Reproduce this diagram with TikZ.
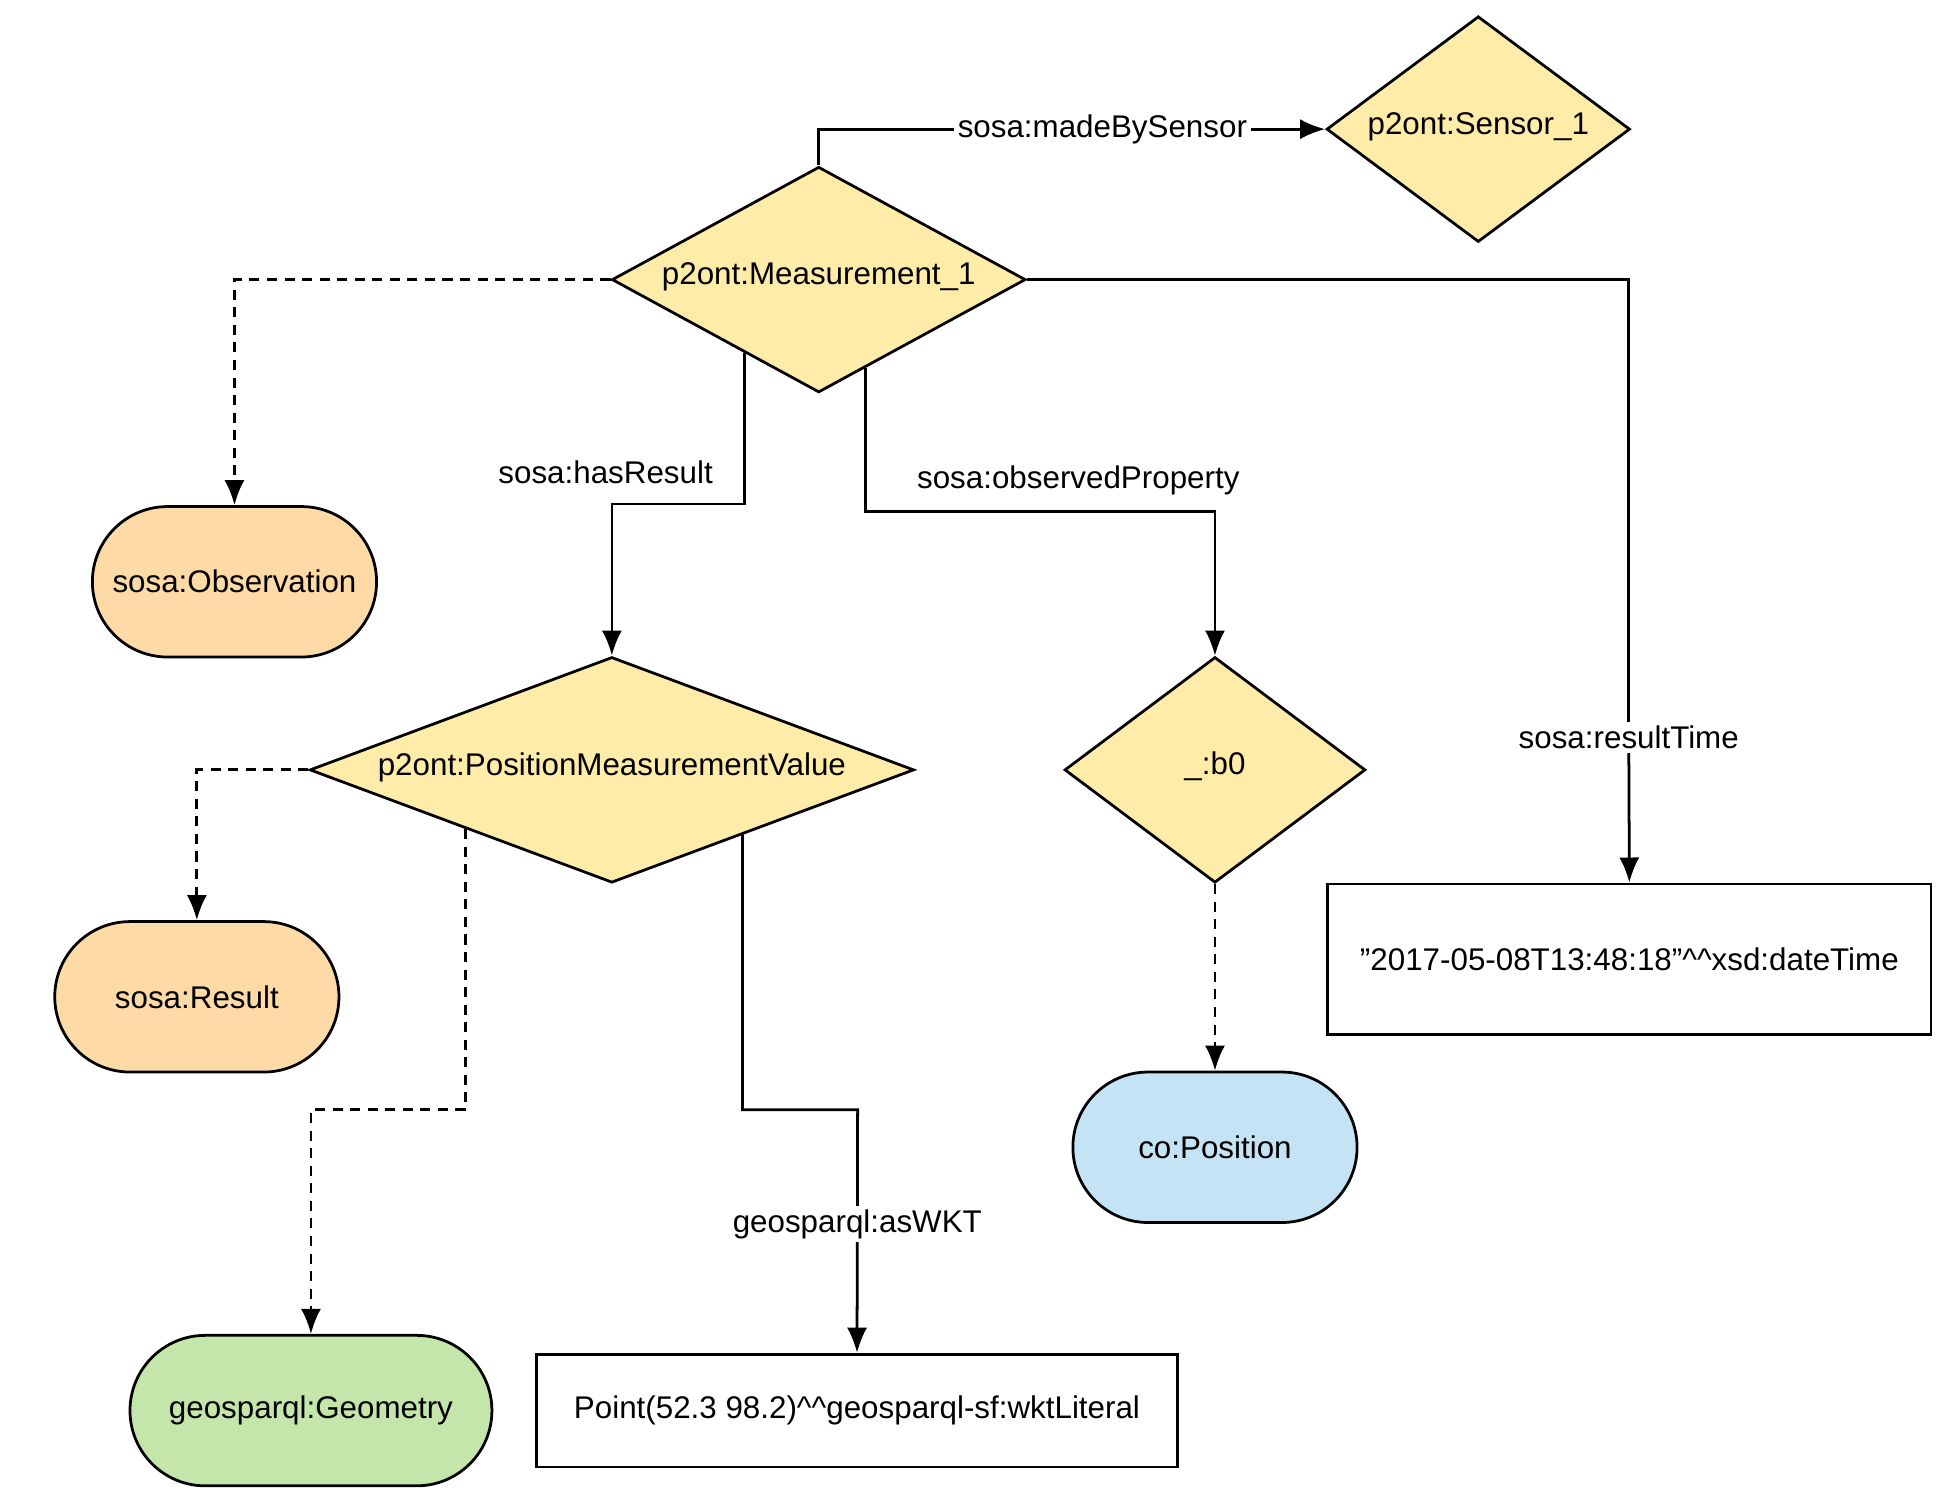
\documentclass[tikz,border=0pt]{standalone}
\usepackage{fontspec}
\setmainfont{Liberation Sans}
\usetikzlibrary{shapes.geometric,shapes.misc,calc,arrows.meta}
\definecolor{dy}{HTML}{FFECA8}
\definecolor{og}{HTML}{FDDAA6}
\definecolor{bl}{HTML}{C4E4F6}
\definecolor{gr}{HTML}{C5E6AA}
\begin{document}
\begin{tikzpicture}[x=0.5pt,y=-0.5pt,
  every node/.style={font=\fontsize{12.5}{15}\selectfont},
  dia/.style={diamond,draw,line width=1.1pt,fill=dy,inner sep=0pt},
  pill/.style={rounded rectangle,draw,line width=1.1pt,minimum width=120pt,minimum height=60pt},
  box/.style={rectangle,draw,line width=1.1pt,fill=white},
  e/.style={line width=1.1pt,-{Latex[length=10pt,width=8pt]}},
  d/.style={e,dash pattern=on 4pt off 3pt},
  lab/.style={fill=white,inner sep=1.5pt}]
\useasboundingbox (0,0) rectangle (1560,1195);
\node[dia,minimum width=165pt,minimum height=90pt] (m) at (653,223) {};
\node (mt) at (653,221) {p2ont:Measurement\_1};
\node[dia,minimum width=121pt,minimum height=90pt] (s) at (1179,103) {};
\node (st) at (1179,101) {p2ont:Sensor\_1};
\node[dia,minimum width=241pt,minimum height=90pt] (p) at (488,614) {};
\node (pt) at (488,612) {p2ont:PositionMeasurementValue};
\node[dia,minimum width=120pt,minimum height=90pt] (b) at (969,614) {};
\node (bt) at (969,611) {\_:b0};
\node[pill,fill=og] (o) at (187,464) {sosa:Observation};
\node[pill,fill=og] (r) at (157,795) {sosa:Result};
\node[pill,fill=bl] (c) at (969,915) {co:Position};
\node[pill,fill=gr,minimum width=151pt] (g) at (248,1125) {geosparql:Geometry};
\node[box,minimum width=240.5pt,minimum height=60pt] (t) at (1299.5,765) {\symbol{34}2017-05-08T13:48:18\symbol{34}\^{}\^{}xsd:dateTime};
\node[box,minimum width=255.5pt,minimum height=45pt] (w) at (683.5,1125) {Point(52.3 98.2)\^{}\^{}geosparql-sf:wktLiteral};
\coordinate (m1) at ($(m.west)!0.642!(m.south)$);
\coordinate (m2) at ($(m.south)!0.224!(m.east)$);
\coordinate (p1) at ($(p.west)!0.519!(p.south)$);
\coordinate (p2) at ($(p.south)!0.43!(p.east)$);
\coordinate (k1) at (653,103);
\coordinate (k2) at (488,402);
\coordinate (k3) at (969,408);
\coordinate (k4) at (248,885);
\coordinate (k5) at (684,885);
\coordinate (k6) at (1299,223);
\coordinate (k7) at (1299,588);
\draw[e] (m.north) -- (k1) -- node[lab,pos=0.56]{sosa:madeBySensor} (s.west);
\draw[d] (m.west) -| (o.north);
\draw[line width=1.1pt] (m.east) -- (k6) -- (k7);
\draw[e] (k7) -- (t.north);
\node[lab] (l3) at (k7) {sosa:resultTime};
\draw[e] (m1) |- (k2) -- (p.north);
\node (l1) at (483,377) {sosa:hasResult};
\draw[e] (m2) |- (k3) -- (b.north);
\node (l2) at (860,383) {sosa:observedProperty};
\draw[d] (p.west) -| (r.north);
\draw[d] (p1) |- (k4) -- (g.north);
\draw[e] (p2) |- (k5) -- node[lab,pos=0.47]{geosparql:asWKT} (w.north);
\draw[d] (b.south) -- (c.north);
\end{tikzpicture}
\end{document}
